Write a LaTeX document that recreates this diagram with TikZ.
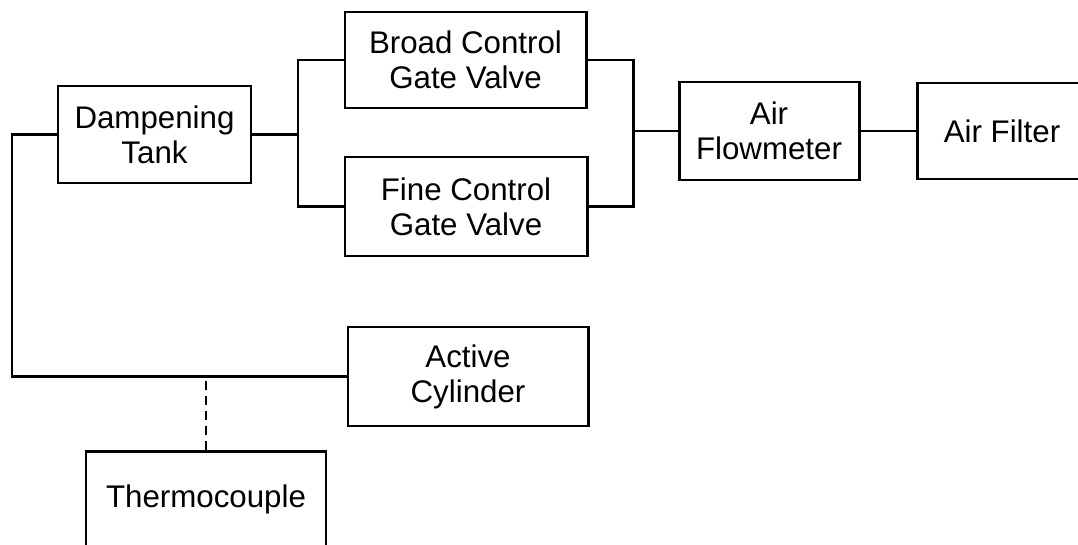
\documentclass[tikz,border=0pt]{standalone}
\usepackage{fontspec}
\setmainfont{Liberation Sans}
\usepackage{tikz}
\usetikzlibrary{positioning,calc}

\begin{document}
\begin{tikzpicture}[
    font=\fontsize{17.8}{20}\selectfont,
    line width=1.7pt,
    block/.style={draw,align=center,inner sep=2pt,minimum height=1.94cm},
    pipe/.style={line width=1.7pt,black},
    probe/.style={line width=1.7pt,dash pattern=on 5pt off 3.5pt},
]
    \path[use as bounding box] (0,0) rectangle (21.56,10.88);

    % supply line
    \node[block,minimum width=3.86cm] (tank) at (3.09,8.19) {Dampening\\Tank};
    \node[block,minimum width=4.82cm,minimum height=1.92cm] (broad) at (9.31,9.68) {Broad Control\\Gate Valve};
    \node[block,minimum width=4.84cm,minimum height=1.98cm] (fine) at (9.32,6.75) {Fine Control\\Gate Valve};
    \node[block,minimum width=3.60cm,minimum height=1.96cm] (flow) at (15.38,8.26) {Air\\Flowmeter};
    \node[block,minimum width=3.40cm,minimum height=1.92cm] (filter) at (20.04,8.26) {Air Filter};

    % test section
    \node[block,minimum width=4.80cm,minimum height=1.98cm] (cyl) at (9.36,3.35) {Active\\Cylinder};
    \node[block,minimum width=4.80cm,minimum height=1.90cm] (thermo) at (4.12,0.90) {Thermocouple};

    \coordinate (splitL) at (5.96,8.19);
    \coordinate (splitR) at (12.66,8.26);
    \coordinate (corner) at (0.24,3.35);

    \draw[pipe] (tank) -- (splitL);
    \draw[pipe] (broad.west) -| (splitL) |- (fine.west);
    \draw[pipe] (broad.east) -| (splitR) |- (fine.east);
    \draw[pipe] (splitR) -- (flow.west);
    \draw[pipe] (flow) -- (filter);
    \draw[pipe] (tank.west) -| (corner) -- (cyl.west);
    \draw[probe] (thermo.north) -- (thermo.north |- corner);
\end{tikzpicture}
\end{document}
